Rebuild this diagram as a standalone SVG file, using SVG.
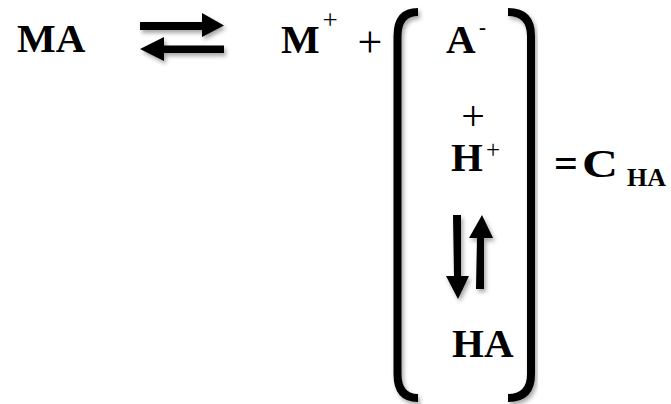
<svg xmlns="http://www.w3.org/2000/svg" width="671" height="404" viewBox="0 0 671 404">
<defs>
<filter id="sh" x="-30%" y="-30%" width="160%" height="160%">
<feDropShadow dx="2" dy="3" stdDeviation="2" flood-color="#000" flood-opacity="0.35"/>
</filter>
<style>
.t{font-family:"Liberation Serif","Times New Roman",serif;font-weight:bold;fill:#000}
.r{font-family:"Liberation Serif","Times New Roman",serif;font-weight:normal;fill:#000}
.br{fill:none;stroke:#000;stroke-width:8;filter:url(#sh)}
.ar{fill:#000;filter:url(#sh)}
</style>
</defs>
<rect width="671" height="404" fill="#fff"/>
<g id="MA"><text class="t" x="17" y="52" font-size="41">MA</text></g>
<g id="Mplus"><text class="t" x="281" y="53" font-size="41">M</text><text class="r" x="330" y="29" font-size="27" text-anchor="middle">+</text></g>
<g id="plus1"><text class="r" x="370" y="57" font-size="44" text-anchor="middle">+</text></g>
<g id="bracket-left"><path class="br" d="M418,12 Q397.5,12 397.5,36 L397.5,374 Q397.5,398 418,398"/></g>
<g id="bracket-right"><path class="br" d="M508,12 Q531,12 531,36 L531,374 Q531,398 508,398"/></g>
<g id="Aminus"><text class="t" x="446" y="53" font-size="41">A</text><text class="t" x="479" y="34" font-size="21">-</text></g>
<g id="plus2"><text class="r" x="473" y="130" font-size="42" text-anchor="middle">+</text></g>
<g id="Hplus"><text class="t" x="451" y="171" font-size="41">H</text><text class="r" x="493" y="158" font-size="25" text-anchor="middle">+</text></g>
<g id="HA"><text class="t" x="452" y="357" font-size="41">HA</text></g>
<g id="CHA"><text class="t" x="554" y="177" font-size="42">=</text><text class="t" x="582" y="177" font-size="41" textLength="36" lengthAdjust="spacingAndGlyphs">C</text><text class="t" x="627" y="186" font-size="26">HA</text></g>
<g id="connectors">
<g id="eq-horizontal">
<path class="ar" d="M140,22 L202,22 L202,13 L224,25.5 L202,37 L202,30 L140,30 Z"/>
<path class="ar" d="M224,45.5 L164,45.5 L164,37 L140,49 L164,61 L164,53 L224,53 Z"/>
</g>
<g id="eq-vertical">
<path class="ar" d="M453,215 L461,215 L461,276 L469,276 L458,299 L446,276 L454,276 Z"/>
<path class="ar" d="M476,289 L484,289 L484,238 L493,238 L482,215 L469,238 L477,238 Z"/>
</g>
</g>
</svg>
